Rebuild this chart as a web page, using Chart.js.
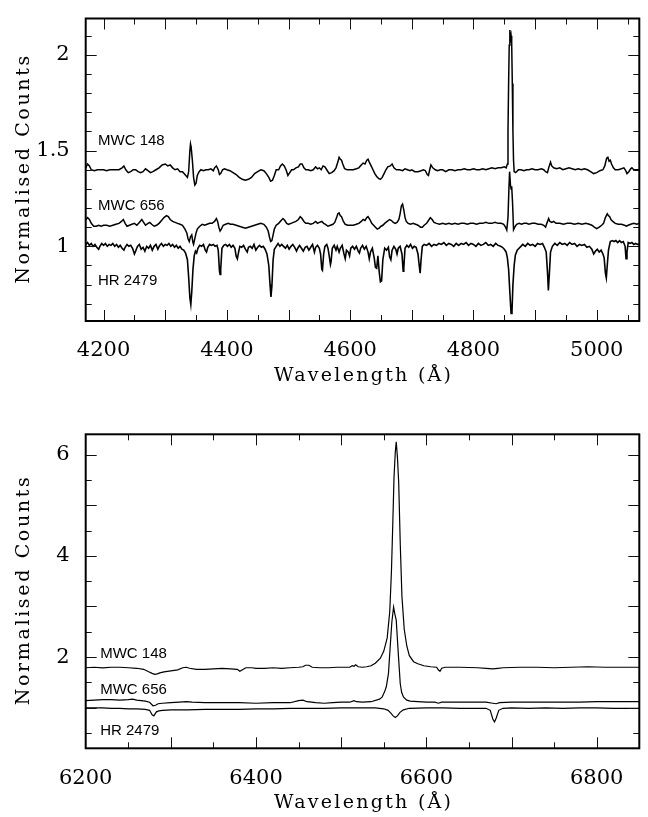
<!DOCTYPE html>
<html><head><meta charset="utf-8">
<script src="https://cdn.jsdelivr.net/npm/chart.js@4.4.1/dist/chart.umd.min.js"></script>
<style>
html,body{margin:0;padding:0;background:#fff;}
#wrap{position:relative;width:648px;height:817px;background:#fff;}
canvas{position:absolute;left:0;}
#c1{top:0;}
#c2{top:400px;}
</style></head><body>
<div id="wrap">
<canvas id="c1" width="648" height="400"></canvas>
<canvas id="c2" width="648" height="417"></canvas>
</div>
<script>
// ---------- Tick labels and texts ----------
const blueXTicks = [4200, 4400, 4600, 4800, 5000];
const blueYTicks = [1, 1.5, 2];
const redXTicks = [6200, 6400, 6600, 6800];
const redYTicks = [2, 4, 6];
const starNames = ["MWC 148", "MWC 656", "HR 2479"];
const xTitle = "Wavelength (Å)";
const yTitle = "Normalised Counts";

// ---------- Blue spectra (wavelength Å, normalised counts) ----------
const blueMWC148 = [[4171,1.41],[4174,1.43],[4177,1.42],[4180,1.40],[4185,1.395],[4190,1.40],[4195,1.40],[4200,1.40],[4205,1.395],[4210,1.40],[4215,1.40],[4220,1.40],[4225,1.40],[4230,1.41],[4233,1.42],[4236,1.40],[4240,1.385],[4244,1.39],[4248,1.40],[4252,1.40],[4256,1.39],[4260,1.385],[4264,1.39],[4268,1.405],[4272,1.395],[4276,1.385],[4280,1.39],[4285,1.40],[4290,1.41],[4295,1.425],[4300,1.43],[4304,1.42],[4308,1.425],[4312,1.41],[4316,1.40],[4320,1.405],[4324,1.39],[4328,1.39],[4332,1.375],[4336,1.36],[4338,1.39],[4340,1.50],[4341,1.535],[4342,1.52],[4344,1.45],[4346,1.36],[4348,1.32],[4350,1.33],[4352,1.37],[4355,1.39],[4358,1.40],[4362,1.395],[4366,1.40],[4370,1.40],[4374,1.405],[4378,1.395],[4380,1.41],[4383,1.42],[4386,1.40],[4388,1.375],[4390,1.38],[4393,1.40],[4396,1.405],[4400,1.40],[4405,1.395],[4410,1.385],[4415,1.375],[4420,1.36],[4425,1.35],[4430,1.345],[4435,1.35],[4440,1.36],[4445,1.38],[4450,1.39],[4455,1.40],[4460,1.395],[4464,1.38],[4468,1.36],[4471,1.34],[4474,1.345],[4477,1.37],[4480,1.40],[4484,1.40],[4487,1.42],[4490,1.43],[4493,1.42],[4496,1.40],[4499,1.37],[4502,1.385],[4505,1.40],[4508,1.40],[4512,1.41],[4516,1.415],[4519,1.43],[4522,1.43],[4525,1.41],[4528,1.40],[4532,1.40],[4536,1.395],[4540,1.40],[4544,1.415],[4547,1.405],[4550,1.41],[4553,1.40],[4556,1.42],[4559,1.415],[4562,1.40],[4566,1.38],[4570,1.385],[4574,1.395],[4577,1.41],[4580,1.44],[4582,1.465],[4584,1.455],[4586,1.45],[4588,1.43],[4591,1.405],[4595,1.40],[4600,1.40],[4605,1.40],[4610,1.405],[4614,1.41],[4618,1.425],[4621,1.435],[4624,1.43],[4627,1.45],[4629,1.455],[4631,1.44],[4634,1.42],[4637,1.40],[4640,1.38],[4643,1.365],[4646,1.355],[4649,1.35],[4652,1.36],[4655,1.38],[4658,1.40],[4661,1.415],[4665,1.42],[4668,1.43],[4671,1.41],[4675,1.40],[4680,1.40],[4685,1.395],[4689,1.405],[4693,1.40],[4697,1.395],[4700,1.40],[4705,1.39],[4710,1.39],[4715,1.395],[4719,1.40],[4722,1.395],[4725,1.375],[4727,1.37],[4729,1.40],[4731,1.425],[4734,1.41],[4738,1.40],[4742,1.395],[4746,1.40],[4750,1.40],[4755,1.39],[4760,1.40],[4765,1.40],[4770,1.395],[4775,1.40],[4780,1.40],[4785,1.405],[4790,1.40],[4795,1.40],[4800,1.405],[4805,1.40],[4810,1.40],[4815,1.405],[4820,1.40],[4825,1.405],[4830,1.41],[4835,1.405],[4840,1.41],[4845,1.41],[4850,1.415],[4853,1.41],[4855,1.43],[4856,1.60],[4857,1.85],[4858,2.05],[4859,2.13],[4860,2.08],[4861,2.10],[4862,2.06],[4863,1.85],[4864,1.60],[4865,1.45],[4866,1.39],[4868,1.385],[4870,1.39],[4873,1.40],[4877,1.40],[4882,1.395],[4886,1.40],[4890,1.40],[4895,1.405],[4900,1.40],[4905,1.40],[4910,1.405],[4914,1.40],[4917,1.39],[4920,1.385],[4922,1.41],[4925,1.44],[4927,1.42],[4930,1.41],[4935,1.405],[4940,1.41],[4945,1.40],[4950,1.405],[4955,1.41],[4960,1.405],[4965,1.40],[4970,1.405],[4975,1.40],[4980,1.405],[4985,1.40],[4990,1.39],[4995,1.38],[5000,1.385],[5005,1.395],[5010,1.40],[5013,1.42],[5016,1.46],[5018,1.465],[5020,1.445],[5022,1.45],[5024,1.43],[5027,1.41],[5030,1.40],[5035,1.40],[5040,1.405],[5044,1.41],[5047,1.395],[5049,1.38],[5052,1.39],[5055,1.405],[5057,1.41],[5060,1.40],[5064,1.40],[5069,1.40]];

const blueMWC656 = [[4171,1.14],[4174,1.15],[4177,1.14],[4180,1.12],[4184,1.105],[4188,1.105],[4192,1.11],[4196,1.105],[4200,1.11],[4205,1.11],[4210,1.105],[4215,1.11],[4220,1.115],[4225,1.12],[4229,1.13],[4232,1.14],[4235,1.12],[4238,1.105],[4242,1.11],[4246,1.115],[4250,1.12],[4254,1.11],[4258,1.125],[4262,1.14],[4265,1.125],[4268,1.11],[4272,1.12],[4275,1.125],[4278,1.115],[4282,1.105],[4286,1.11],[4290,1.12],[4294,1.135],[4298,1.15],[4302,1.16],[4305,1.155],[4308,1.14],[4312,1.13],[4316,1.125],[4320,1.12],[4324,1.115],[4328,1.11],[4332,1.09],[4335,1.07],[4337,1.04],[4339,1.025],[4341,1.05],[4343,1.06],[4345,1.02],[4346,1.01],[4348,1.04],[4350,1.07],[4352,1.09],[4356,1.105],[4360,1.115],[4364,1.11],[4368,1.115],[4372,1.12],[4376,1.12],[4380,1.13],[4383,1.145],[4385,1.13],[4387,1.10],[4389,1.08],[4391,1.09],[4394,1.11],[4398,1.115],[4402,1.12],[4406,1.115],[4410,1.115],[4415,1.11],[4420,1.105],[4425,1.10],[4430,1.095],[4435,1.10],[4440,1.105],[4445,1.11],[4450,1.115],[4455,1.12],[4460,1.115],[4464,1.10],[4467,1.08],[4469,1.05],[4471,1.025],[4473,1.03],[4475,1.06],[4477,1.09],[4480,1.11],[4484,1.12],[4488,1.135],[4491,1.145],[4494,1.135],[4497,1.12],[4500,1.115],[4504,1.12],[4508,1.125],[4512,1.13],[4516,1.14],[4519,1.155],[4522,1.145],[4525,1.13],[4528,1.12],[4532,1.12],[4536,1.115],[4540,1.12],[4544,1.13],[4547,1.12],[4550,1.125],[4554,1.13],[4557,1.12],[4560,1.115],[4564,1.105],[4568,1.11],[4572,1.115],[4575,1.125],[4578,1.15],[4580,1.17],[4582,1.175],[4584,1.16],[4586,1.155],[4589,1.13],[4592,1.115],[4596,1.11],[4600,1.11],[4605,1.11],[4610,1.115],[4614,1.12],[4618,1.13],[4621,1.14],[4624,1.135],[4627,1.15],[4629,1.155],[4632,1.14],[4635,1.12],[4638,1.11],[4641,1.10],[4644,1.09],[4647,1.095],[4650,1.105],[4653,1.11],[4656,1.12],[4660,1.13],[4664,1.14],[4667,1.135],[4670,1.125],[4673,1.12],[4676,1.125],[4679,1.14],[4681,1.17],[4683,1.21],[4685,1.22],[4687,1.19],[4689,1.15],[4691,1.13],[4694,1.12],[4698,1.115],[4702,1.12],[4706,1.115],[4710,1.11],[4714,1.10],[4717,1.10],[4720,1.11],[4724,1.12],[4727,1.135],[4730,1.15],[4733,1.14],[4736,1.125],[4740,1.12],[4745,1.115],[4750,1.12],[4755,1.115],[4760,1.12],[4765,1.115],[4770,1.12],[4775,1.115],[4780,1.12],[4785,1.12],[4790,1.115],[4795,1.12],[4800,1.12],[4805,1.115],[4810,1.12],[4815,1.12],[4820,1.125],[4825,1.12],[4830,1.12],[4835,1.125],[4840,1.12],[4845,1.12],[4849,1.115],[4852,1.10],[4854,1.085],[4856,1.15],[4857.5,1.30],[4858.6,1.39],[4860,1.32],[4861,1.30],[4862,1.314],[4863.5,1.22],[4865,1.087],[4867,1.10],[4870,1.115],[4874,1.12],[4878,1.115],[4882,1.12],[4886,1.12],[4890,1.115],[4895,1.12],[4900,1.12],[4905,1.115],[4910,1.115],[4914,1.11],[4917,1.10],[4919,1.12],[4922,1.145],[4924,1.13],[4927,1.125],[4930,1.13],[4934,1.12],[4940,1.12],[4946,1.115],[4952,1.12],[4958,1.12],[4964,1.115],[4970,1.12],[4976,1.115],[4982,1.12],[4988,1.115],[4992,1.11],[4996,1.10],[5000,1.092],[5004,1.10],[5008,1.11],[5011,1.12],[5014,1.15],[5017,1.17],[5019,1.16],[5021,1.155],[5023,1.14],[5026,1.13],[5030,1.12],[5035,1.115],[5040,1.115],[5045,1.11],[5048,1.105],[5051,1.11],[5055,1.115],[5060,1.12],[5065,1.115],[5069,1.12]];

const blueHR2479 = [[4171,1.01],[4174,1.02],[4177,1.005],[4180,1.015],[4183,1.0],[4186,1.01],[4189,0.995],[4192,0.985],[4194,1.0],[4197,1.015],[4200,1.005],[4203,1.015],[4206,1.0],[4209,1.01],[4212,1.005],[4215,1.015],[4218,1.0],[4221,1.01],[4224,0.995],[4227,1.005],[4230,0.99],[4233,0.98],[4235,0.995],[4238,1.01],[4241,1.0],[4244,1.005],[4247,0.99],[4250,0.96],[4252,0.975],[4255,1.0],[4258,1.01],[4261,0.985],[4264,0.995],[4267,0.975],[4270,1.0],[4273,0.99],[4276,1.005],[4279,0.98],[4282,1.0],[4285,1.01],[4288,0.985],[4291,1.005],[4294,1.015],[4297,1.0],[4300,1.01],[4303,1.005],[4306,1.015],[4309,1.0],[4312,1.01],[4315,0.995],[4318,1.005],[4321,0.99],[4324,1.0],[4327,0.985],[4330,0.98],[4333,0.965],[4336,0.93],[4338,0.84],[4340,0.73],[4341.5,0.696],[4343,0.76],[4345,0.88],[4347,0.95],[4349,0.975],[4351,0.965],[4353,0.99],[4356,1.005],[4359,1.0],[4362,1.01],[4365,0.98],[4367,0.97],[4369,0.995],[4372,1.01],[4375,1.005],[4378,1.01],[4381,1.0],[4384,1.005],[4386,0.98],[4388,0.87],[4389,0.853],[4390,0.88],[4392,0.99],[4395,1.005],[4398,1.01],[4401,1.0],[4404,1.01],[4407,0.995],[4410,1.005],[4413,0.99],[4415,0.95],[4417,0.935],[4419,0.97],[4421,1.0],[4424,0.995],[4427,1.005],[4430,0.985],[4433,0.97],[4435,0.995],[4438,1.0],[4441,0.99],[4444,1.01],[4447,0.98],[4450,0.995],[4453,1.005],[4456,0.995],[4459,1.0],[4462,0.985],[4465,0.96],[4468,0.90],[4470,0.80],[4471.5,0.736],[4473,0.79],[4475,0.93],[4477,0.985],[4480,1.0],[4483,1.015],[4486,1.0],[4489,1.01],[4492,1.0],[4495,0.99],[4498,1.005],[4501,0.985],[4504,1.0],[4507,1.01],[4510,0.995],[4513,0.975],[4515,0.99],[4518,1.005],[4521,0.99],[4524,0.975],[4527,0.995],[4530,1.0],[4533,0.98],[4536,0.995],[4539,1.01],[4542,0.97],[4544,0.995],[4547,1.005],[4550,0.99],[4552,0.96],[4554,0.88],[4555,0.875],[4557,0.96],[4559,1.0],[4562,1.01],[4564,0.99],[4566,0.95],[4568,0.905],[4569,0.92],[4571,0.99],[4574,1.005],[4577,0.98],[4579,1.0],[4582,0.97],[4584,0.99],[4587,1.005],[4590,0.96],[4592,0.935],[4594,0.98],[4597,0.97],[4599,0.95],[4601,0.99],[4604,1.0],[4607,0.985],[4610,1.0],[4613,0.975],[4615,0.965],[4617,0.99],[4620,1.005],[4623,0.985],[4626,1.0],[4629,0.97],[4631,0.935],[4633,0.97],[4636,0.99],[4639,0.94],[4641,0.89],[4643,0.885],[4645,0.95],[4647,0.87],[4649,0.815],[4651,0.82],[4653,0.93],[4656,0.99],[4659,0.98],[4662,0.995],[4664,0.945],[4666,0.93],[4668,0.98],[4671,1.0],[4674,0.985],[4676,0.96],[4678,0.99],[4681,1.0],[4684,0.96],[4686,0.87],[4687,0.89],[4689,0.99],[4692,1.005],[4695,0.995],[4698,1.01],[4701,0.99],[4704,1.0],[4707,0.995],[4710,0.96],[4712,0.90],[4713.5,0.86],[4715,0.93],[4717,1.0],[4720,1.01],[4724,1.005],[4728,1.015],[4732,1.0],[4736,1.01],[4740,1.005],[4744,1.015],[4748,1.01],[4752,1.02],[4756,1.005],[4760,1.015],[4764,1.01],[4768,1.0],[4772,1.015],[4776,1.005],[4780,1.015],[4784,1.01],[4788,1.02],[4792,1.005],[4796,1.015],[4800,1.01],[4804,1.0],[4808,1.015],[4812,1.005],[4816,1.01],[4820,1.02],[4824,1.005],[4828,1.01],[4832,1.0],[4836,1.015],[4840,1.005],[4844,1.0],[4847,0.995],[4850,0.985],[4853,0.97],[4855,0.94],[4857,0.88],[4859,0.76],[4861,0.65],[4862.5,0.66],[4864,0.80],[4866,0.90],[4868,0.955],[4871,0.98],[4874,0.99],[4877,1.0],[4880,1.01],[4884,1.0],[4888,1.015],[4892,1.005],[4896,1.01],[4900,1.0],[4904,1.015],[4908,1.01],[4912,1.015],[4915,0.995],[4918,0.97],[4920,0.87],[4921.5,0.77],[4923,0.85],[4925,0.97],[4928,1.0],[4932,1.015],[4936,1.005],[4940,1.02],[4944,1.01],[4948,1.015],[4952,1.005],[4956,1.02],[4960,1.01],[4964,1.015],[4968,1.0],[4972,1.01],[4976,1.005],[4980,1.01],[4984,0.995],[4988,1.0],[4992,0.985],[4995,0.96],[4998,0.975],[5001,0.985],[5004,0.97],[5007,0.98],[5010,0.96],[5012,0.94],[5014,0.86],[5015.5,0.835],[5017,0.90],[5019,0.98],[5022,1.025],[5025,1.03],[5028,1.025],[5031,1.03],[5034,1.02],[5037,1.03],[5040,1.02],[5043,1.025],[5046,1.0],[5047.5,0.935],[5049,0.97],[5051,1.02],[5054,1.015],[5057,1.02],[5060,1.01],[5063,1.015],[5066,1.01],[5069,1.01]];

// ---------- Red spectra (wavelength Å, normalised counts) ----------
const redMWC148 = [[6200,1.79],[6210,1.80],[6220,1.79],[6230,1.80],[6240,1.80],[6250,1.79],[6260,1.78],[6268,1.76],[6274,1.71],[6278,1.68],[6281,1.66],[6284,1.67],[6287,1.69],[6292,1.71],[6300,1.73],[6308,1.75],[6314,1.79],[6318,1.80],[6322,1.78],[6330,1.76],[6340,1.76],[6350,1.77],[6360,1.78],[6370,1.77],[6378,1.76],[6381,1.72],[6384,1.75],[6388,1.79],[6395,1.79],[6400,1.78],[6410,1.78],[6420,1.79],[6430,1.78],[6440,1.79],[6450,1.80],[6455,1.81],[6458,1.84],[6462,1.84],[6466,1.80],[6475,1.79],[6485,1.79],[6495,1.80],[6505,1.80],[6510,1.80],[6513,1.83],[6515,1.82],[6517,1.85],[6520,1.81],[6525,1.80],[6530,1.81],[6535,1.83],[6540,1.88],[6546,1.98],[6550,2.12],[6554,2.38],[6557,2.90],[6559,3.70],[6560.5,4.60],[6562,5.55],[6563.5,6.05],[6564.6,6.25],[6566,5.95],[6567.5,5.45],[6569.4,4.20],[6571.3,3.20],[6574,2.55],[6577,2.22],[6580,2.03],[6585,1.91],[6590,1.87],[6597,1.83],[6605,1.81],[6612,1.80],[6614,1.75],[6616,1.72],[6618,1.78],[6622,1.80],[6640,1.80],[6660,1.79],[6670,1.78],[6678,1.77],[6684,1.78],[6690,1.79],[6710,1.80],[6730,1.80],[6750,1.79],[6770,1.80],[6790,1.81],[6810,1.80],[6830,1.80],[6850,1.80]];

const redMWC656 = [[6200,1.14],[6210,1.15],[6220,1.16],[6230,1.16],[6240,1.15],[6250,1.16],[6255,1.17],[6260,1.15],[6270,1.13],[6275,1.11],[6279,1.04],[6282,1.05],[6285,1.08],[6290,1.09],[6300,1.10],[6310,1.11],[6318,1.12],[6325,1.11],[6340,1.10],[6360,1.10],[6380,1.10],[6400,1.09],[6420,1.10],[6440,1.10],[6450,1.14],[6455,1.15],[6460,1.12],[6470,1.10],[6480,1.09],[6490,1.10],[6500,1.11],[6510,1.11],[6515,1.14],[6518,1.12],[6525,1.11],[6535,1.12],[6545,1.17],[6548,1.21],[6551,1.32],[6553,1.42],[6555.5,1.68],[6557.5,2.20],[6559.5,2.70],[6561.5,2.99],[6563,2.85],[6564.6,2.73],[6566,2.35],[6567.3,2.00],[6569.3,1.48],[6571,1.30],[6573.2,1.21],[6577,1.15],[6581,1.13],[6590,1.12],[6600,1.11],[6610,1.11],[6614,1.09],[6618,1.11],[6630,1.11],[6650,1.11],[6670,1.11],[6678,1.09],[6682,1.08],[6686,1.10],[6700,1.11],[6720,1.11],[6750,1.11],[6780,1.11],[6800,1.12],[6820,1.12],[6850,1.12]];

const redHR2479 = [[6200,1.00],[6210,1.00],[6220,1.00],[6230,0.99],[6240,0.99],[6250,0.98],[6260,0.98],[6270,0.97],[6275,0.95],[6278,0.86],[6280,0.84],[6283,0.92],[6286,0.94],[6290,0.95],[6300,0.96],[6320,0.96],[6340,0.97],[6360,0.97],[6380,0.97],[6400,0.98],[6420,0.98],[6440,0.99],[6460,0.99],[6480,0.99],[6500,1.00],[6520,1.00],[6540,1.00],[6550,0.98],[6555,0.95],[6558,0.90],[6561,0.84],[6563.5,0.81],[6566,0.84],[6569,0.91],[6573,0.96],[6580,0.99],[6600,1.00],[6620,1.00],[6640,0.99],[6660,0.99],[6670,0.99],[6675,0.95],[6678,0.78],[6680,0.72],[6682,0.80],[6685,0.95],[6690,0.99],[6700,1.00],[6720,0.99],[6740,1.00],[6760,0.99],[6780,1.00],[6800,1.00],[6820,0.99],[6850,0.99]];

// label anchor positions (data coords) for the star names
const blueLabelPos = [[4191,1.53],[4191,1.19],[4191,0.80]];
const redLabelPos = [[6217,1.98],[6217,1.27],[6217,0.46]];

// ---------- plugins ----------
function spacedText(ctx, text, cx, cy, width) {
  if ('letterSpacing' in ctx) ctx.letterSpacing = '0px';
  const w0 = ctx.measureText(text).width;
  let sp = 0;
  if ('letterSpacing' in ctx && text.length > 1) {
    sp = (width - w0) / (text.length - 1);
    ctx.letterSpacing = sp + 'px';
  }
  ctx.textAlign = 'left';
  ctx.textBaseline = 'middle';
  ctx.fillText(text, cx - (w0 + sp * (text.length - 1)) / 2, cy);
  if ('letterSpacing' in ctx) ctx.letterSpacing = '0px';
}

const frameTicks = {
  id: 'frameTicks',
  afterDatasetsDraw(chart, args, o) {
    const {ctx, chartArea: a, scales: {x, y}} = chart;
    ctx.save();
    ctx.strokeStyle = '#111';
    ctx.lineWidth = 1;
    const xs = (list, len) => list.forEach(v => {
      const p = Math.round(x.getPixelForValue(v)) + 0.5;
      if (p < a.left + 1 || p > a.right - 1) return;
      ctx.beginPath();
      ctx.moveTo(p, a.bottom); ctx.lineTo(p, a.bottom - len);
      ctx.moveTo(p, a.top); ctx.lineTo(p, a.top + len);
      ctx.stroke();
    });
    const ys = (list, len) => list.forEach(v => {
      const p = Math.round(y.getPixelForValue(v)) + 0.5;
      if (p < a.top + 1 || p > a.bottom - 1) return;
      ctx.beginPath();
      ctx.moveTo(a.left, p); ctx.lineTo(a.left + len, p);
      ctx.moveTo(a.right, p); ctx.lineTo(a.right - len, p);
      ctx.stroke();
    });
    const range = (lo, hi, step) => { const r = []; for (let i = 0; lo + i * step <= hi + 1e-9; i++) r.push(+(lo + i * step).toFixed(4)); return r; };
    xs(range(o.xMin[0], o.xMin[1], o.xMin[2]), 6);
    xs(range(o.xMaj[0], o.xMaj[1], o.xMaj[2]), 11);
    ys(range(o.yMin[0], o.yMin[1], o.yMin[2]), 6);
    ys(range(o.yMaj[0], o.yMaj[1], o.yMaj[2]), 11);
    ctx.lineWidth = 2;
    ctx.strokeStyle = '#000';
    ctx.strokeRect(a.left, a.top, a.right - a.left, a.bottom - a.top);
    // star names
    ctx.fillStyle = '#000';
    ctx.font = '15px "Liberation Sans", Arial, sans-serif';
    ctx.textBaseline = 'alphabetic';
    ctx.textAlign = 'left';
    o.names.forEach((n, i) => {
      ctx.fillText(n, x.getPixelForValue(o.pos[i][0]), y.getPixelForValue(o.pos[i][1]));
    });
    // axis titles (typewriter-like serif, spread to the reference width)
    ctx.font = '19px "DejaVu Serif", serif';
    spacedText(ctx, xTitle, (a.left + a.right) / 2, a.bottom + 55, 177);
    ctx.save();
    ctx.translate(24.5, (a.top + a.bottom) / 2);
    ctx.rotate(-Math.PI / 2);
    spacedText(ctx, yTitle, 0, 0, 228);
    ctx.restore();
    ctx.restore();
  }
};

function ds(arr, w) {
  return {
    data: arr.map(p => ({x: p[0], y: p[1]})),
    borderColor: '#000', borderWidth: w, pointRadius: 0, tension: 0, fill: false
  };
}

function makeChart(id, cfg) {
  return new Chart(document.getElementById(id), {
    type: 'line',
    data: {datasets: cfg.sets},
    plugins: [frameTicks],
    options: {
      responsive: false, devicePixelRatio: 1, animation: false,
      parsing: false, normalized: true,
      layout: {padding: {top: cfg.padTop, right: 8.7, left: 0, bottom: 0}},
      plugins: {legend: {display: false}, tooltip: {enabled: false},
        frameTicks: cfg.ticks},
      scales: {
        x: {
          type: 'linear', min: cfg.xmin, max: cfg.xmax,
          grid: {display: false}, border: {display: false},
          afterBuildTicks: s => { s.ticks = cfg.xTicks.map(v => ({value: v})); },
          afterFit: s => { s.height = cfg.xh; },
          ticks: {color: '#000', padding: 11.5, maxRotation: 0, autoSkip: false,
            font: {family: 'DejaVu Serif', size: 21, lineHeight: 1},
            callback: v => String(v)},
          title: {display: false}
        },
        y: {
          type: 'linear', min: cfg.ymin, max: cfg.ymax,
          grid: {display: false}, border: {display: false},
          afterBuildTicks: s => { s.ticks = cfg.yTicks.map(v => ({value: v})); },
          afterFit: s => { s.width = 85.7; },
          ticks: {color: '#000', padding: 8, autoSkip: false,
            font: {family: 'DejaVu Serif', size: 21, lineHeight: 1},
            callback: v => String(v)},
          title: {display: false}
        }
      }
    }
  });
}

makeChart('c1', {
  sets: [ds(blueMWC148, 1.5), ds(blueMWC656, 1.5), ds(blueHR2479, 1.6)],
  xmin: 4171, xmax: 5069, ymin: 0.61, ymax: 2.19,
  xTicks: blueXTicks, yTicks: blueYTicks,
  padTop: 8.3, xh: 79,
  ticks: {xMin: [4200, 5050, 50], xMaj: [4200, 5000, 100], yMin: [0.7, 2.1, 0.1], yMaj: [1, 2, 0.5],
    names: starNames, pos: blueLabelPos}
});

makeChart('c2', {
  sets: [ds(redMWC148, 1.2), ds(redMWC656, 1.2), ds(redHR2479, 1.2)],
  xmin: 6200, xmax: 6850, ymin: 0.2, ymax: 6.4,
  xTicks: redXTicks, yTicks: redYTicks,
  padTop: 34.3, xh: 68.7,
  ticks: {xMin: [6250, 6800, 50], xMaj: [6300, 6800, 100], yMin: [0.5, 6, 0.5], yMaj: [1, 6, 1],
    names: starNames, pos: redLabelPos}
});
</script>
</body></html>
